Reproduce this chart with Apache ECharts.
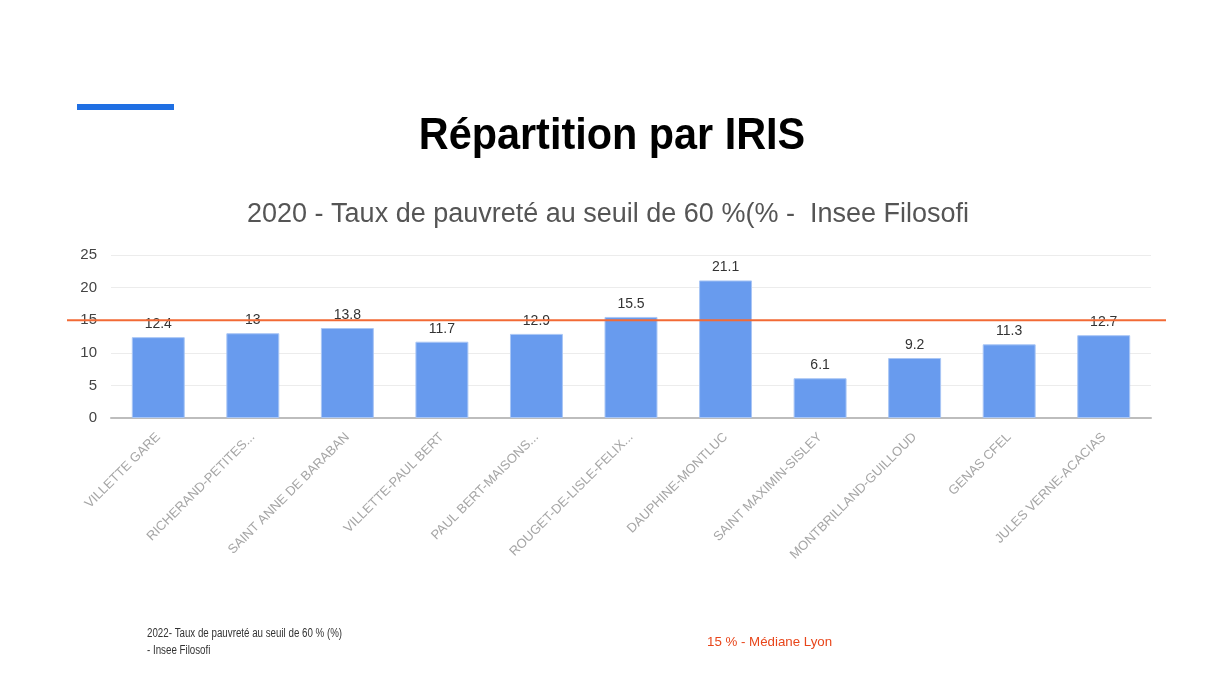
<!DOCTYPE html>
<html>
<head>
<meta charset="utf-8">
<script src="https://cdn.jsdelivr.net/npm/echarts@6/dist/echarts.min.js"></script>
<style>
  html, body { margin: 0; padding: 0; background: #fff; }
  #chart { width: 1216px; height: 682px; }
</style>
</head>
<body>
<div id="chart"></div>
<script>
// données IRIS
const categories = [
  'VILLETTE GARE',
  'RICHERAND-PETITES...',
  'SAINT ANNE DE BARABAN',
  'VILLETTE-PAUL BERT',
  'PAUL BERT-MAISONS...',
  'ROUGET-DE-LISLE-FELIX...',
  'DAUPHINE-MONTLUC',
  'SAINT MAXIMIN-SISLEY',
  'MONTBRILLAND-GUILLOUD',
  'GENAS CFEL',
  'JULES VERNE-ACACIAS'
]
const tauxPauvrete = [12.4, 13, 13.8, 11.7, 12.9, 15.5, 21.1, 6.1, 9.2, 11.3, 12.7]
const medianeLyon = 15
const yTicks = [0, 5, 10, 15, 20, 25]

const myChart = echarts.init(document.getElementById('chart'))

let option = {
  animation: false,
  backgroundColor: '#fff',
  textStyle: { fontFamily: 'Liberation Sans, Arial, sans-serif' },
  grid: {
    left: 111,
    right: 65,
    top: 255,
    bottom: 264,
    containLabel: false
  },
  xAxis: {
    type: 'category',
    data: categories,
    axisTick: { show: false },
    axisLine: { lineStyle: { color: '#bdbdbd', width: 2 } },
    axisLabel: {
      rotate: 45,
      interval: 0,
      margin: 17,
      fontSize: 13,
      color: '#a6a6a6'
    }
  },
  yAxis: {
    type: 'value',
    min: yTicks[0],
    max: yTicks[yTicks.length - 1],
    interval: 5,
    axisLine: { show: false },
    axisTick: { show: false },
    axisLabel: { fontSize: 15, color: '#444', margin: 14 },
    splitLine: { lineStyle: { color: '#ececec', width: 1 } }
  },
  series: [
    {
      type: 'bar',
      data: tauxPauvrete,
      barWidth: '56%',
      itemStyle: {
        color: '#689bee',
        borderColor: '#a9c6f5',
        borderWidth: 1
      },
      label: {
        show: true,
        position: 'top',
        distance: 6,
        fontSize: 14,
        color: '#333'
      }
    }
  ],
  graphic: [
    {
      id: 'barreBleue',
      type: 'rect',
      left: 77,
      top: 104,
      shape: { width: 97, height: 6 },
      style: { fill: '#1f6fe3' }
    },
    {
      id: 'titre',
      type: 'text',
      x: 612,
      y: 137,
      scaleX: 0.92,
      style: {
        text: 'Répartition par IRIS',
        textAlign: 'center',
        textVerticalAlign: 'middle',
        fontSize: 45,
        fontWeight: 'bold',
        fill: '#000',
        fontFamily: 'Liberation Sans, Arial, sans-serif'
      }
    },
    {
      id: 'sousTitre',
      type: 'text',
      x: 608,
      y: 215,
      style: {
        text: '2020 - Taux de pauvreté au seuil de 60 %(% -  Insee Filosofi',
        textAlign: 'center',
        textVerticalAlign: 'middle',
        fontSize: 27,
        fill: '#555',
        fontFamily: 'Liberation Sans, Arial, sans-serif'
      }
    },
    {
      id: 'source',
      type: 'text',
      x: 147,
      y: 625,
      scaleX: 0.78,
      style: {
        text: '2022- Taux de pauvreté au seuil de 60 % (%)\n- Insee Filosofi',
        fontSize: 12.5,
        lineHeight: 17,
        fill: '#333',
        fontFamily: 'Liberation Sans, Arial, sans-serif'
      }
    },
    {
      id: 'legendeMediane',
      type: 'text',
      x: 707,
      y: 642,
      style: {
        text: '15 % - Médiane Lyon',
        textVerticalAlign: 'middle',
        fontSize: 13.3,
        fill: '#e8461b',
        fontFamily: 'Liberation Sans, Arial, sans-serif'
      }
    }
  ]
}
myChart.setOption(option)

// ligne médiane Lyon, position y calculée via l'axe
const yMed = myChart.convertToPixel({ yAxisIndex: 0 }, medianeLyon)
myChart.setOption({
  graphic: [
    {
      id: 'ligneMediane',
      type: 'line',
      z: 100,
      shape: { x1: 67, y1: yMed, x2: 1166, y2: yMed },
      style: { stroke: '#f26a35', lineWidth: 2 }
    }
  ]
})
</script>
</body>
</html>
